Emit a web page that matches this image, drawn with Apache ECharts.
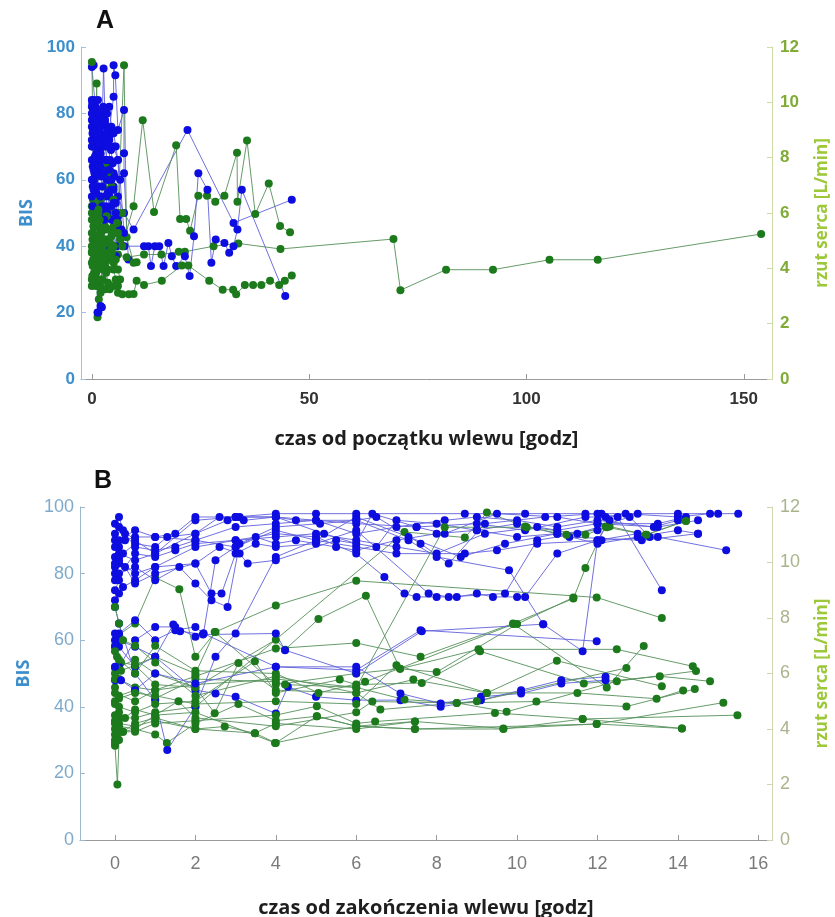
<!DOCTYPE html>
<html><head><meta charset="utf-8">
<script src="https://cdn.jsdelivr.net/npm/echarts@6/dist/echarts.min.js"></script>
<style>html,body{margin:0;padding:0;background:#fff}#c{width:835px;height:917px}</style>
</head><body><div id="c"></div><script>
// ---------- Tick labels ----------
const aXTicks = [0, 50, 100, 150];
const bXTicks = [0, 2, 4, 6, 8, 10, 12, 14, 16];

// ---------- Panel A: BIS (blue) traces, hours from start of infusion ----------
const aBlueT = [
  [0,0.5,1,2,3,4,5,5,5.4,6,7.4,7.4,7.4,8.4],
  [0,0.4,0.8,1.2,1.6,2,2.4,3,4,5,6,7.4,9.6,22,32.6,46],
  [0,0.3,0.7,1,1.5,2,2.7,3,3.5,4,5,6,6.8,7.5,12,13,13.6,14.5,15.5,16.5,17.6,18.4,19.4,21.4,22.5,23.5,24.5,26.6,27.5,28.5,30.5,31.6,32.6,33.5,34.5,44.5],
  [0,0.25,0.5,0.75,1,1.5,2,2.5,3,3.5,4,5,5.7,6.5],
  [0,0.2,0.5,1,1.5,2,2.5,3,3.5,4,4.5,5,5.5],
  [0,0.2,0.5,1,1.3,1.5,2,2.3,2.7,3,3.5,4,4.5],
  [0,0.25,0.5,0.8,1,1.5,2,2.5,3,3.5,4,4.5,5,5.5,6,6.5,7.4],
  [0,0.2,0.4,0.7,1,1.3,1.7,2,2.5,3,3.5,4,4.5,5,5.5,6,6.5],
  [0,0.15,0.3,0.5,0.7,0.9,1.2,1.5,1.8,2.1,2.4,2.8,3.2,3.6,4,4.4,4.8,5.2],
  [0,0.2,0.4,0.6,0.9,1.2,1.6,2,2.4,2.8,3.2,3.6,4,4.5,5,5.5,6],
  [0,0.1,0.3,0.5,0.8,1.1,1.4,1.7,2,2.3,2.6,3,3.4,3.8,4.2]
];
const aBlueV = [
  [84,80,76,72,78,75,85,94.5,91.5,75,81,68,62,36],
  [94,94.5,82,78,74,70,66,64,60,58,55,50,45,75,47,54],
  [78,75,72,68,65,62,93.5,80,76,72,70,66,45,40,40,40,34,40,40,34,41,37,34,37,31,43,62,57,35,42,41,38,40,45,57,25],
  [72,70,66,62,58,55,52,50,55,60,65,62,40,44],
  [76,80,84,80,77,74,70,66,60,57,52,48,37],
  [66,64,60,56,20,20,22,21.6,40,45,50,55,48],
  [82,78,74,70,66,64,68,72,77,80,82,76,74,70,66,60,44],
  [60,58,63,67,72,76,78,76,73,70,66,63,60,57,53,49,45],
  [70,74,78,82,79,75,71,68,64,61,58,62,66,70,73,69,65,61],
  [55,52,57,62,66,62,58,55,52,48,52,56,60,57,53,50,47],
  [80,83,78,74,77,81,84,80,76,79,82,78,74,70,66]
];
// ---------- Panel A: cardiac output (green) traces [L/min] ----------
const aGreenT = [
  [0,0.5,1,1.5,2,3,4,5,6,8,12,16,20,21.4,28,33.7,43.4,69.4,71,81.5,92.3,105.3,116.4,154],
  [0,0.5,1,1.5,2,3,4,5,6,7,9.6,11.7,14.3,19.4,20.3,21.7,22.6,24.5,26.5,28.4,30.5,33.4,33.5,35.7,37.6,40.7,43.3,45.6],
  [0,0.5,1,2,3,4,5,6,7,8.5,9.6,10.3,12,16.1,20.7,22.2,27,30.1,32.5,33.2,35.2,37.1,39,41,43.1,44.4,46],
  [0,0.3,0.6,1,1.5,2,3,4,5,6,7.4,8,9.6,10.3],
  [0,0.3,0.6,1,1.1,1.3,1.6,2,2.5,3,3.5,4,4.5,5,5.5,6],
  [0,0.25,0.5,0.75,1,1.5,2,2.5,3,3.5,4,4.5,5,5.5,6,6.5],
  [0,0.2,0.5,0.8,1,1.5,2,2.5,3,3.5,4,4.5,5,5.5,6,6.5,7],
  [0,0.3,0.6,1,1.5,2,2.5,3,3.5,4,5,6,7],
  [0,0.15,0.35,0.55,0.8,1.1,1.4,1.7,2,2.3,2.6,3,3.4,3.8,4.2,4.6,5],
  [0,0.2,0.4,0.7,1,1.3,1.6,1.9,2.2,2.5,2.9,3.3,3.7,4.1,4.6,5.2,5.8],
  [0,0.1,0.3,0.6,0.9,1.2,1.5,1.8,2.1,2.5,2.9,3.3,3.7,4.1]
];
const aGreenV = [
  [4.6,4.3,4.8,4.4,4.5,4.2,4.6,4.3,4.5,4.4,4.5,4.5,4.6,4.6,4.8,4.9,4.7,5.06,3.21,3.95,3.95,4.31,4.31,5.24],
  [6.0,5.76,6.24,5.52,5.28,5.76,6.0,5.52,5.28,4.8,6.24,9.35,6.04,8.45,5.78,5.78,5.36,6.62,6.62,6.41,6.62,8.18,6.41,8.62,5.96,7.07,5.53,5.3],
  [4.2,3.84,3.6,3.36,3.24,3.36,3.36,3.12,3.06,3.06,3.07,3.55,3.4,3.55,4.1,4.1,3.55,3.23,3.23,3.06,3.4,3.4,3.4,3.55,3.4,3.55,3.74],
  [11.46,8.4,7.2,6.24,5.76,5.4,5.04,4.8,5.28,6.0,11.34,5.12,4.2,4.22],
  [4.8,4.32,3.6,3.36,10.68,2.23,2.88,3.6,4.08,4.56,5.04,4.8,4.32,3.96,3.6,3.36],
  [6.24,6.48,6.0,5.52,5.04,4.56,4.2,3.96,4.44,4.92,5.4,5.16,4.8,4.32,3.96,3.6],
  [3.6,4.08,4.56,5.04,5.52,6.0,6.48,6.96,7.44,7.8,7.44,6.96,6.48,6.0,5.4,5.04,4.8],
  [5.28,4.8,4.32,3.84,3.36,3.12,3.6,4.08,4.56,4.32,4.8,5.28,6.0],
  [4.56,5.04,5.52,6.0,5.64,5.16,4.8,4.44,4.08,4.56,5.04,5.52,5.88,5.4,4.92,4.56,4.2],
  [5.76,5.28,4.8,4.32,3.96,3.6,4.08,4.56,5.04,5.4,4.92,4.44,3.96,4.32,4.8,5.28,5.64],
  [3.36,3.72,4.2,4.68,5.16,5.64,6.12,5.76,5.28,4.8,4.32,3.84,3.48,3.24]
];

// ---------- Panel B: BIS (blue) traces, hours from end of infusion ----------
const bBlueT = [
  [0,0.1,0.25,0.5,1,1.5,2,3,4,5,6,8.7,10.2,11.7,12.1,13,14,15,15.5],
  [0,0.1,0.2,0.5,1,1.3,2,2.6,3.1,4,5,6,7.5,9,10.2,11.7,12.2,12.7,14,14.8],
  [0,0.1,0.25,0.5,1,1.5,2,3,4,5,6,7,8,9.2,10.5,11,12,13.5,14.5],
  [0,0.1,0.5,1,2,3,4,5,6,6.7,7.2,7.5,8,8.5,9,9.4,10,10.2,11,12,12.3],
  [0,0.1,0.2,0.5,1,2,2.4,2.65,3,3.5,4,5,6,7.8,8.3,9.7,10.5,11.5,12.8,13.3],
  [0,0.1,0.5,1,2,2.5,3,4,4.3,5,6,7.1,8.1,9.1,10.1,11.1,12.2],
  [0,0.1,0.5,1,1.5,2,2.2,2.5,3,4,5,6,7,8.7,9.5,10.5,12.1,13.5,15.2],
  [0,0.1,0.25,0.5,1,1.5,2,3,3.5,4,4.5,5.5,6,7,8,9,10,11,12,13,14,14.5],
  [0,0.1,0.5,1,1.3,2,2.5,3,4,5,6,7.3,8.6,9.7,11,12],
  [0,0.1,0.2,0.5,1,2,2.8,3.2,4,4.5,6,6.5,7.6,8.3,9.2,10.7,12,12.5,13.6],
  [0,0.1,0.5,1,1.6,2,2.4,2.8,3.1,4,5.1,6,7.3,8,9.8,10.65,11.63,12,13],
  [0,0.1,0.5,1,2,3,4,5.2,6,6.4,7.5,8.2,9.5,11,12,13.5,14.2],
  [0,0.1,0.5,1,1.5,2,2.2,4,6,7.6,11.98],
  [0,0.1,0.5,1,2,2.6,3.1,3.3,4,5.5,6.5,7,8,9,10,11.3,13.1,14.5],
  [0,0.1,0.5,1,2,3,4,5,6,7,8.2,9,10,11,12,13.4,14],
  [0,0.15,0.5,1,2,4,6,7.1,8.1,9.1,10.1,11.1,12.2],
  [0,0.1,0.5,1,1.45,1.62,2.19,4,4.23,6,7.63,10.65]
];
const bBlueV = [
  [85,88,90,91,91,92,97,97,98,98,98,98,98,98,98,98,98,98,98],
  [80,83,86,89,88,91,92,97,97,97,96,95,94,95,93,97,97,98,97,98],
  [75,78,82,86,85,87,89,90,91,92,90,88,86,92,94,93,95,94,96],
  [82,84,80,82,88,90,92,91,86,79,74,73,73,73,74,73,73,73,86,90,96],
  [72,74,76,78,82,83,74,74,86,89,88,89,93,74,73,74,90,92,97,91],
  [60,58,52,55,45,44,43,38,46,43,42,42,40,42,45,48,49],
  [48,52,60,64,64,61,62,84,88,93,90,88,86,86,87,89,90,91,87],
  [90,94,92,88,87,88,90,88,91,89,90,88,87,90,92,93,91,92,89,91,93,92],
  [70,65,50,42,27,40,55,62,85,90,97,91,85,89,92,93],
  [95,97,93,90,86,92,96,96,97,96,96,97,89,83,95,97,98,97,75],
  [78,80,82,78,82,77,72,70,89,94,95,96,90,85,81,64.8,56.7,90,92],
  [88,86,84,86,96,97,97,92,89,98,94,92,98,97,95,95,97],
  [58,62,66,60,63,64,62,52,51,63,59.7],
  [83,85,77,80,83,88,86,83,84,90,88,96,95,93,95,91,90,92],
  [92,90,93,91,90,94,95,96,92,94,96,97,96,94,96,94,96],
  [52,48,45,50,47,52,52,44,41,43,44,47,48],
  [62,60,58,55,64.7,62.7,61.7,62,57,50,62.7,64.8]
];
// ---------- Panel B: cardiac output (green) traces [L/min] ----------
const bGreenT = [
  [0,0.1,0.5,1,2,4,6,7.6,9.9,11.4,11.7,12.2],
  [0,0.05,0.1,0.5,1,2,7.2,8.7,9.25,10.2,11.7,12.3,13.2,14.2],
  [0,0.1,0.5,1,1.6,2,2.5,4,6,11.98,13.6],
  [0,0.05,0.15,0.5,1,2,4,4.23,5.06,6.24,7.09,8.0,10.0,11.4],
  [0,0.06,0.1,0.2,0.5,1,1.29,2,3.07,4,5.02,6,7.46,9.66,11.98,14.1],
  [0,0.1,0.5,1,2,2.73,3.48,4,5.02,6,7.46,9.66,11.63,15.48],
  [0,0.1,0.5,1,2,4,4.23,6,7.2,8.5,10.48,12.72,14.42],
  [0,0.05,0.5,1,2,2.48,3.07,4,6,7.42,9.24,11.5,13.47,14.13],
  [0,0.1,0.5,1,2,3.48,4,5.59,6,7.63,9.08,11.66,13.55,14.8],
  [0,0.1,0.5,1,1.58,2,4,6,6.4,8.5,9.74,12.48,14.45],
  [0,0.15,0.5,1,2,2.48,4,6,7.09,9.04,12.48,14.37],
  [0,0.1,0.5,1,2,4,5.02,6,6.47,9.45,11.63,14.1],
  [0,0.1,0.25,0.5,1,2,3.98,6,7.46,11.98,15.13],
  [0,0.1,0.5,1,2,4,5.06,6.22,9.91,12.23,13.15],
  [0,0.5,1,2,4,6,8.2,10.24,11.23,12.23,13.22,14.2],
  [0,0.1,0.5,1,2,4,6,7.0,9.25,10.99,13.6],
  [0,0.1,0.2,0.5,1,2,4,6,6.6,9.0,12.72],
  [0,0.05,0.2,0.5,1,2,3.48,4,6,7.46]
];
const bGreenV = [
  [5.5,5.8,5.5,5.4,5.9,6.9,7.1,6.6,7.8,8.7,9.8,11.3],
  [4.2,4.5,4.4,4.4,4.6,4.8,11.1,10.9,11.8,11.3,11.0,11.3,11.0,11.5],
  [7.0,7.4,7.8,9.46,9.04,6.6,7.5,8.45,9.34,8.74,8.0],
  [6.2,6.6,6.4,6.3,5.6,5.5,7.22,6.86,7.96,8.8,6.17,6.05,7.78,8.74],
  [3.4,2.0,3.6,3.9,4.0,3.8,3.5,4.2,4.9,4.3,4.46,4.1,4.27,4.02,4.18,4.02],
  [4.0,4.2,4.1,4.3,4.0,4.09,3.85,3.5,4.46,4.1,4.0,4.0,4.36,4.5],
  [5.0,5.2,5.4,5.1,5.8,5.7,5.6,5.5,5.06,4.94,4.99,4.81,5.44],
  [6.0,6.2,6.5,6.0,5.5,4.57,6.38,5.4,5.3,5.78,5.3,5.3,5.09,5.39],
  [4.5,4.8,4.6,4.9,5.0,6.44,5.3,5.78,5.6,5.66,6.8,5.64,5.9,5.72],
  [3.8,4.1,4.0,4.5,5.0,4.4,4.1,4.6,4.99,4.94,4.62,5.72,6.09],
  [5.8,6.1,6.3,6.6,6.0,7.5,5.6,6.0,6.17,6.87,6.87,6.26],
  [3.6,3.9,3.9,4.2,4.3,4.5,4.82,4.2,4.27,4.58,4.36,4.02],
  [4.3,4.6,4.4,4.7,4.5,4.6,3.5,4.1,4.0,4.18,4.95],
  [6.8,6.5,6.0,7.0,6.1,6.0,5.3,5.7,7.78,5.5,6.99],
  [5.3,5.0,5.4,5.6,5.8,5.5,11.27,11.27,11.0,11.27,11.0,11.5],
  [4.9,5.1,5.3,5.2,4.9,5.0,4.9,6.3,5.3,6.46,5.54],
  [8.4,7.8,7.2,7.0,6.4,5.2,5.9,5.3,4.7,5.0,6.2],
  [3.5,3.8,3.9,4.2,4.4,4.0,3.85,4.2,4.0,4.27]
];

// ---------- styles ----------
const BLUE_DOT = '#0d0de0', BLUE_LINE = '#6060dc';
const GREEN_DOT = '#1c7a1c', GREEN_LINE = '#55905a';

function mk(ts, vs, xi, yi, dot, line) {
  return {
    type: 'line', xAxisIndex: xi, yAxisIndex: yi,
    data: ts.map((t, i) => [t, vs[i]]),
    symbol: 'circle', symbolSize: 8, showSymbol: true,
    lineStyle: { width: 1, color: line, opacity: 0.9 },
    itemStyle: { color: dot, borderWidth: 0 },
    emphasis: { disabled: true }, animation: false, z: 2
  };
}
const series = [];
function addPanel(bt, bv, gt, gv, xi, yL, yR) {
  const n = Math.max(bt.length, gt.length);
  for (let i = 0; i < n; i++) {
    if (i < bt.length) series.push(mk(bt[i], bv[i], xi, yL, BLUE_DOT, BLUE_LINE));
    if (i < gt.length) series.push(mk(gt[i], gv[i], xi, yR, GREEN_DOT, GREEN_LINE));
  }
}
addPanel(aBlueT, aBlueV, aGreenT, aGreenV, 0, 0, 1);
addPanel(bBlueT, bBlueV, bGreenT, bGreenV, 1, 2, 3);

const FF = 'Liberation Sans, Arial, sans-serif';
function xAx(grid, min, max, ticks, name, bold, labCol, margin, gap) {
  return {
    type: 'value', gridIndex: grid, min: min, max: max,
    axisLine: { show: true, onZero: false, lineStyle: { color: '#9a9a9a', width: 1 } },
    axisTick: { show: true, inside: true, length: 5, customValues: ticks, lineStyle: { color: '#9a9a9a' } },
    axisLabel: { customValues: ticks, color: labCol, fontWeight: bold ? 'bold' : 'normal', fontSize: bold ? 17 : 18, margin: margin, fontFamily: FF },
    splitLine: { show: false },
    name: name, nameLocation: 'middle', nameGap: gap,
    nameTextStyle: { color: '#1e1e1e', fontWeight: 'bold', fontSize: 20, fontFamily: 'Open Sans, sans-serif' }
  };
}
function yAx(grid, pos, max, interval, name, labCol, lineCol, nameCol, bold, gap, nameSize) {
  return {
    type: 'value', gridIndex: grid, position: pos, min: 0, max: max, interval: interval,
    axisLine: { show: true, onZero: false, lineStyle: { color: lineCol, width: 1 } },
    axisTick: { show: true, inside: true, length: 5, lineStyle: { color: lineCol } },
    axisLabel: { color: labCol, fontWeight: bold ? 'bold' : 'normal', fontSize: bold ? 17 : 18, margin: pos === 'left' ? 6 : 8, fontFamily: FF },
    splitLine: { show: false },
    name: name, nameLocation: 'middle', nameGap: gap, nameRotate: 90,
    nameTextStyle: { color: nameCol, fontWeight: 'bold', fontSize: nameSize, fontFamily: 'Open Sans, sans-serif' }
  };
}

const chart = echarts.init(document.getElementById('c'), null, { renderer: 'canvas' });
chart.setOption({
  backgroundColor: '#ffffff',
  animation: false,
  grid: [
    { left: 81, top: 47, width: 691, height: 332, outerBoundsMode: 'none', containLabel: false },
    { left: 80, top: 507, width: 692, height: 333, outerBoundsMode: 'none', containLabel: false }
  ],
  xAxis: [
    xAx(0, -2.5, 156.5, aXTicks, 'czas od początku wlewu [godz]', true, '#333333', 12, 50),
    xAx(1, -0.87, 16.34, bXTicks, 'czas od zakończenia wlewu [godz]', false, '#7a7a7a', 15, 58)
  ],
  yAxis: [
    yAx(0, 'left', 100, 20, 'BIS', '#3d8fcc', '#9cc3e6', '#3d8fcc', true, 43, 18),
    yAx(0, 'right', 12, 2, 'rzut serca [L/min]', '#7fab36', '#cfdca8', '#9cc83a', true, 42, 17),
    yAx(1, 'left', 100, 20, 'BIS', '#7eaacb', '#9cb8cc', '#3d8fcc', false, 40, 18),
    yAx(1, 'right', 12, 2, 'rzut serca [L/min]', '#a9b48c', '#cfd6b0', '#9cc83a', false, 42, 17)
  ],
  graphic: [
    { type: 'text', left: 96, top: 9, style: { text: 'A', font: 'bold 25px Liberation Sans, Arial', fill: '#111' } },
    { type: 'text', left: 94, top: 469, style: { text: 'B', font: 'bold 25px Liberation Sans, Arial', fill: '#111' } }
  ],
  series: series
});
</script></body></html>
